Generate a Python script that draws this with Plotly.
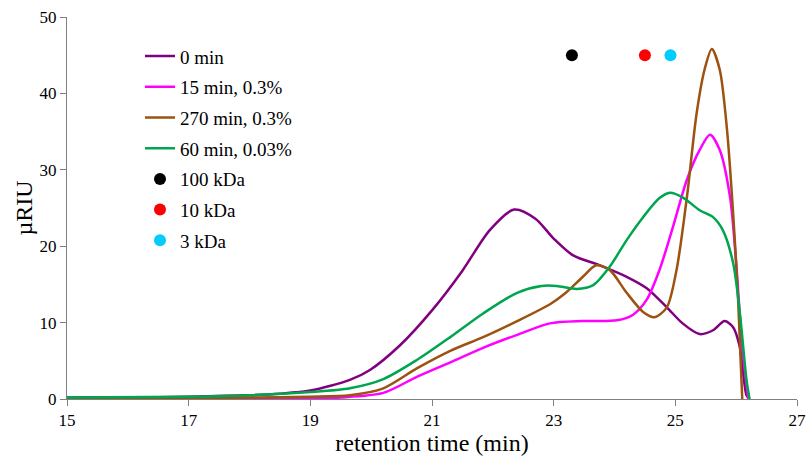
import plotly.graph_objects as go

# ---- data ----
x_0min = [15, 16, 17, 18, 18.5, 19.0, 19.65, 19.98, 20.47, 21.0, 21.5, 21.95, 22.35, 22.7, 23.0, 23.32, 23.76, 24.2, 24.53, 24.86, 25.12, 25.4, 25.62, 25.81, 25.95, 26.06, 26.17, 26.22]
y_0min = [0.2, 0.2, 0.3, 0.5, 0.7, 1.1, 2.5, 3.8, 7.0, 11.6, 16.8, 22.1, 24.8, 23.6, 21.0, 18.8, 17.5, 16.0, 14.5, 12.0, 9.9, 8.5, 9.0, 10.2, 9.4, 6.8, 0.5, 0.0]

x_15min = [15, 17, 18, 19, 19.5, 20.2, 20.75, 21.3, 21.84, 22.4, 22.94, 23.48, 24.04, 24.3, 24.53, 24.74, 24.96, 25.19, 25.4, 25.57, 25.73, 25.9, 26.0, 26.1, 26.2]
y_15min = [0.1, 0.1, 0.1, 0.1, 0.2, 0.8, 2.9, 4.8, 6.7, 8.4, 9.9, 10.2, 10.3, 11.0, 13.0, 16.9, 22.5, 28.7, 32.6, 34.6, 32.6, 26.4, 17.8, 6.8, 0.0]

x_270min = [15, 17, 18, 19, 19.65, 20.2, 20.75, 21.3, 21.84, 22.4, 22.94, 23.2, 23.48, 23.7, 23.92, 24.2, 24.47, 24.66, 24.86, 25.02, 25.19, 25.35, 25.48, 25.6, 25.73, 25.85, 25.95, 26.03, 26.1]
y_270min = [0.1, 0.1, 0.2, 0.3, 0.5, 1.4, 4.0, 6.3, 8.1, 10.2, 12.4, 13.9, 16.0, 17.5, 16.9, 13.9, 11.4, 10.7, 12.0, 16.9, 26.4, 37.4, 43.1, 45.8, 43.1, 35.2, 24.3, 13.4, 0.0]

x_60min = [15, 17, 18, 19.0, 19.65, 20.2, 20.75, 21.3, 21.84, 22.4, 22.8, 23.05, 23.38, 23.65, 23.92, 24.2, 24.47, 24.74, 24.91, 25.12, 25.4, 25.62, 25.78, 25.95, 26.06, 26.17, 26.22]
y_60min = [0.2, 0.3, 0.5, 0.9, 1.4, 2.6, 5.1, 8.1, 11.2, 13.9, 14.8, 14.8, 14.4, 14.9, 17.3, 20.8, 23.8, 26.3, 27.0, 26.4, 24.7, 23.8, 22.1, 17.8, 11.3, 2.5, 0.0]

marker_names = ["100 kDa", "10 kDa", "3 kDa"]
marker_x = [23.3, 24.5, 24.92]
marker_y = [45, 45, 45]
marker_colors = ["#000000", "#ff0000", "#00ccff"]

x_ticks = [15, 17, 19, 21, 23, 25, 27]
y_ticks = [0, 10, 20, 30, 40, 50]

FONT = "Liberation Serif"

fig = go.Figure()
lines = [
    ("0 min", x_0min, y_0min, "#800080"),
    ("15 min, 0.3%", x_15min, y_15min, "#ff00ff"),
    ("270 min, 0.3%", x_270min, y_270min, "#9c5210"),
    ("60 min, 0.03%", x_60min, y_60min, "#00a550"),
]
for i, (name, xs, ys, c) in enumerate(lines):
    fig.add_trace(go.Scatter(x=xs, y=ys, mode="lines", name=name,
                             line=dict(color=c, width=2.5, shape="spline", smoothing=0.8),
                             legendgroup=f"g{i}"))
for j, (n, xm, ym, c) in enumerate(zip(marker_names, marker_x, marker_y, marker_colors)):
    fig.add_trace(go.Scatter(x=[xm], y=[ym], mode="markers", name=n,
                             marker=dict(color=c, size=12),
                             legendgroup=f"m{j}"))

fig.update_layout(
    width=808, height=458,
    margin=dict(l=67, r=11, t=17, b=59),
    paper_bgcolor="white", plot_bgcolor="white",
    font=dict(family=FONT, color="#000000", size=17),
    showlegend=True,
    legend=dict(x=0.1, y=0.947, xanchor="left", yanchor="top",
                font=dict(family=FONT, size=19), tracegroupgap=3,
                bgcolor="rgba(0,0,0,0)", itemwidth=30),
    xaxis=dict(range=[15, 27], tickvals=x_ticks, ticktext=[str(v) for v in x_ticks],
               showgrid=False, zeroline=False, showline=True, linecolor="#808080",
               linewidth=1, ticks="outside", ticklen=6, tickcolor="#808080",
               tickfont=dict(family=FONT, size=17), automargin=False,
               title=dict(text="retention time (min)", font=dict(family=FONT, size=24), standoff=0)),
    yaxis=dict(range=[0, 50], tickvals=y_ticks, ticktext=[str(v) for v in y_ticks],
               showgrid=False, zeroline=False, showline=True, linecolor="#808080",
               linewidth=1, ticks="outside", ticklen=6, tickcolor="#808080",
               tickfont=dict(family=FONT, size=17), automargin=False,
               title=dict(text="µRIU", font=dict(family=FONT, size=24), standoff=0)),
)

fig.write_html("out.html")
